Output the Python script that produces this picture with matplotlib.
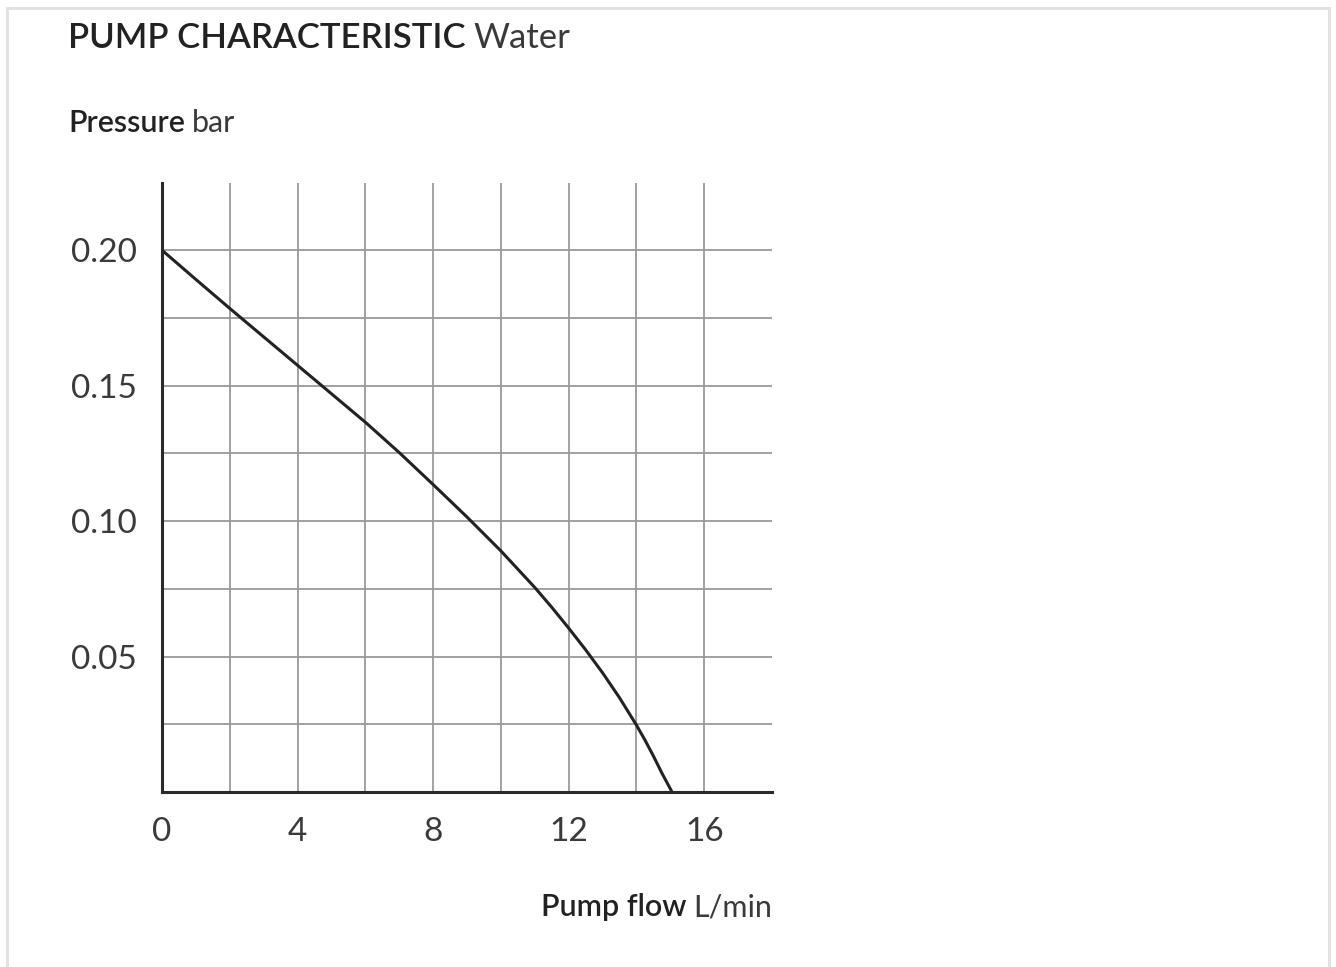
import matplotlib
matplotlib.use("Agg")
import matplotlib.pyplot as plt
from matplotlib.patches import Rectangle

# pump curve
flow = [0, 1, 2, 3, 4, 5, 6, 7, 8, 9, 10, 11, 11.5, 12, 12.5, 13, 13.5,
        14, 14.25, 14.5, 14.75, 15.05]
pressure = [0.200, 0.1892, 0.1785, 0.1680, 0.1575, 0.1470, 0.1365, 0.1253, 0.1135,
            0.1015, 0.0890, 0.0755, 0.0682, 0.0605, 0.0525, 0.0440, 0.0348,
            0.0247, 0.0192, 0.0133, 0.0070, 0.0]

x_ticks = [0, 4, 8, 12, 16]
x_grid = [2, 4, 6, 8, 10, 12, 14, 16]
y_ticks = [0.05, 0.10, 0.15, 0.20]
y_grid = [0.025, 0.05, 0.075, 0.10, 0.125, 0.15, 0.175, 0.20]

plt.rcParams['font.family'] = ['Lato', 'DejaVu Sans']

W, H = 1336, 967
fig = plt.figure(figsize=(W / 100, H / 100), dpi=100)

# light frame around the card
fig.patches.append(Rectangle((7 / W, -0.05), 1322 / W, 1.05 - 8 / H,
                             transform=fig.transFigure, fill=False,
                             edgecolor='#e2e2e2', linewidth=2.2))

ax = fig.add_axes([162 / W, 1 - 792 / H, 610 / W, 609 / H])
ax.set_xlim(0, 18)
ax.set_ylim(0, 0.2248)

for gx in x_grid:
    ax.axvline(gx, color='#9a9a9a', linewidth=1.3, zorder=1)
for gy in y_grid:
    ax.axhline(gy, color='#9a9a9a', linewidth=1.3, zorder=1)

ax.plot(flow, pressure, color='#222222', linewidth=2.2, zorder=3,
        solid_joinstyle='round')

ax.spines['top'].set_visible(False)
ax.spines['right'].set_visible(False)
for s in ['left', 'bottom']:
    ax.spines[s].set_color('#2a2a2a')
    ax.spines[s].set_linewidth(2.2)
    ax.spines[s].set_zorder(4)

ax.set_xticks(x_ticks)
ax.set_xticklabels([str(v) for v in x_ticks])
ax.set_yticks(y_ticks)
ax.set_yticklabels([f"{v:.2f}" for v in y_ticks])
ax.tick_params(length=0, labelsize=24, colors='#3a3a3a', pad=0)
ax.tick_params(axis='x', pad=18)
ax.tick_params(axis='y', pad=18)

fig.canvas.draw()
renderer = fig.canvas.get_renderer()


def two_part(x, y, bold, light, size, ha='left'):
    t1 = fig.text(x, y, bold, fontsize=size, fontweight='semibold',
                  color='#222222', va='center', ha='left')
    bb = t1.get_window_extent(renderer)
    gap = size * 0.3
    t2 = fig.text(0, y, light, fontsize=size, fontweight='normal',
                  color='#3a3a3a', va='center', ha='left')
    bb2 = t2.get_window_extent(renderer)
    if ha == 'right':
        total = bb.width + gap + bb2.width
        x0 = x * W - total
        t1.set_x(x0 / W)
        t2.set_x((x0 + bb.width + gap) / W)
    else:
        t2.set_x((x * W + bb.width + gap) / W)


two_part(68 / W, 1 - 38 / H, 'PUMP CHARACTERISTIC', 'Water', 25)
two_part(68 / W, 1 - 123 / H, 'Pressure', 'bar', 22)
two_part(772 / W, 1 - 907 / H, 'Pump flow', 'L/min', 22, ha='right')

fig.savefig("out.png", dpi=100)
